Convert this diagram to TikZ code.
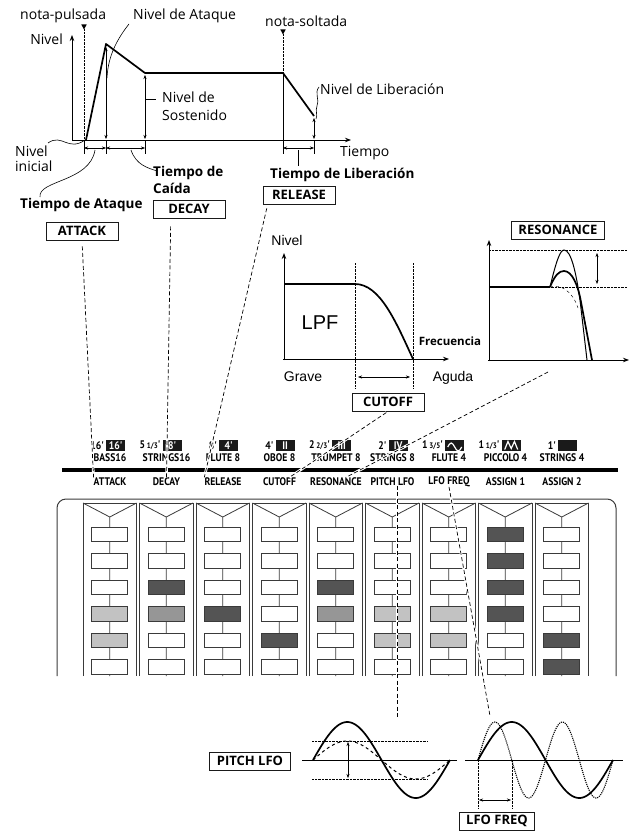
\documentclass[tikz,border=0pt]{standalone}
\usepackage{fontspec}
\setmainfont{Open Sans}
\newfontfamily\arialfont{Liberation Sans}
\newfontfamily\condfont[FakeStretch=0.88]{PT Sans}
\usetikzlibrary{arrows.meta,calc}

\definecolor{ink}{HTML}{1A1A1A}
\definecolor{rim}{HTML}{3A3A3A}

\newcommand\frc[2]{{\fontsize{8}{8}\selectfont#1/#2}}

\tikzset{
  lbl/.style={font=\fontsize{14}{18}\selectfont,inner sep=0pt,align=left},
  tlbl/.style={font=\bfseries\fontsize{13.5}{17.5}\selectfont,inner sep=0pt,align=left},
  ctlbox/.style={draw=ink,line width=0.9pt,font=\bfseries\fontsize{13}{13}\selectfont,
    inner xsep=7pt,inner ysep=0pt,minimum width=72pt,minimum height=18pt},
  helv/.style={inner sep=0pt},
  knob/.style={font=\condfont\bfseries\fontsize{11}{11}\selectfont,inner sep=0pt},
  foot/.style={knob,fill=ink,text=white,minimum width=19pt,minimum height=11pt},
  link/.style={dash pattern=on 4pt off 2.5pt,line width=0.7pt,
    preaction={draw=white,solid,line width=2.6pt}},
  lead/.style={line width=0.6pt},
  env/.style={line width=1.7pt,line join=round},
  axisline/.style={line width=0.9pt,-{Stealth[length=6pt,width=4.5pt]}},
  lamp/.style={draw=rim,line width=0.8pt},
}

\begin{document}
\begin{tikzpicture}[x=1pt,y=-1pt,>={Stealth[length=4pt,width=3pt]}]
  \useasboundingbox (0,0) rectangle (633,832);

  % envelope generator
  \draw[axisline] (72,141) -- (72,35);
  \draw[axisline] (72,140) -- (351,140);
  \node[lbl,anchor=base east] (nivy) at (63,45) {Nivel};
  \node[lbl,anchor=base west] (tiempo) at (340,157) {Tiempo};
  \draw[env] (86,140) -- (106,44) -- (145,73) -- (283,73) -- (314,116);
  \draw[<->,thin] (106,139) -- (106,47);
  \draw[<->,thin] (145,139) -- (145,75);
  \draw[<->,thin] (314,139) -- (314,118);
  \draw[thin] (84,140) -- (84,154) (106,140) -- (106,154) (145,140) -- (145,154)
              (283,73) -- (283,154) (314,140) -- (314,154);
  \draw[<->,thin] (84,148) -- (106,148);
  \draw[<->,thin] (106,148) -- (145,148);
  \draw[<->,thin] (283,148) -- (314,148);
  \draw[densely dotted,thin] (84,29) -- (84,140);
  \draw[densely dotted,thin] (283,34) -- (283,73);
  \fill (81.3,24.5) -- (86.7,24.5) -- (84,29.5) -- cycle;
  \fill (280.3,29.5) -- (285.7,29.5) -- (283,34.5) -- cycle;

  \node[lbl,anchor=base west] (npul) at (20,20) {nota-pulsada};
  \node[lbl,anchor=base west] (natk) at (133,20) {Nivel de Ataque};
  \node[lbl,anchor=base west] (nsol) at (265,27) {nota-soltada};
  \node[lbl,anchor=north west] (nsus) at (162,92) {Nivel de\\Sostenido};
  \node[lbl,anchor=base west] (nrel) at (320,95) {Nivel de Liberación};
  \node[lbl,anchor=north west,font=\fontsize{14}{15}\selectfont] (nini) at (15,146) {Nivel\\inicial};
  \node[tlbl,anchor=base west] (tatk) at (20,208) {Tiempo de Ataque};
  \node[tlbl,anchor=north west] (tdec) at (153,166) {Tiempo de\\Caída};
  \node[tlbl,anchor=base west] (trel) at (270,178) {Tiempo de Liberación};

  \draw[lead] (129,24) .. controls (118,38) and (108,55) .. (107,78);
  \draw[lead] (146,99) -- (156,99);
  \draw[lead] (319,87) .. controls (314,93) and (320,100) .. (317,106)
              .. controls (315,111) and (318,115) .. (316,119);
  \draw[lead] (48,143) .. controls (62,133) and (68,152) .. (85,140);
  \draw[lead] (40,197) .. controls (38,180) and (90,182) .. (95,150);
  \draw[lead] (131,150) .. controls (136,165) and (148,168) .. (157,171);
  \draw[lead] (298,150) -- (298,166);

  \node[ctlbox] (attack) at (82,231) {ATTACK};
  \node[ctlbox] (decay) at (189,209) {DECAY};
  \node[ctlbox] (release) at (299,195) {RELEASE};

  % low pass filter
  \draw[axisline] (284,360) -- (284,253);
  \draw[axisline] (283,359) -- (449,359);
  \draw[env] (284,284) -- (355,284) .. controls (380,284) and (396,322) .. (413,359);
  \draw[densely dotted,thin] (355,263) -- (355,388) (413,263) -- (413,388);
  \draw[<->,thin] (358,377) -- (410,377);
  \node[helv,font=\arialfont\fontsize{14}{14}\selectfont] (fniv) at (287,240) {Nivel};
  \node[helv,font=\arialfont\fontsize{20}{20}\selectfont] (lpf) at (320,323) {LPF};
  \node[helv,font=\bfseries\fontsize{11.5}{11.5}\selectfont] (frec) at (450,341) {Frecuencia};
  \node[helv,font=\arialfont\fontsize{14}{14}\selectfont,anchor=base] (grave) at (303,381) {Grave};
  \node[helv,font=\arialfont\fontsize{14}{14}\selectfont,anchor=base] (aguda) at (453,381) {Aguda};
  \node[ctlbox] (cutoff) at (388,402) {CUTOFF};

  % resonance
  \draw[axisline] (489,361) -- (489,240);
  \draw[axisline] (488,360) -- (629,360);
  \draw[densely dotted,thin] (489,250) -- (627,250) (489,287) -- (627,287);
  \draw[env] (489,287) -- (550,287);
  \draw[line width=1pt] (550,287) .. controls (556,262) and (560,250) .. (564,250)
        .. controls (571,250) and (576,272) .. (580,300) -- (587,360);
  \draw[env] (550,287) .. controls (555,275) and (559,271) .. (564,271)
        .. controls (572,271) and (578,285) .. (581,302) -- (592,360);
  \draw[dashed,thin] (550,287) .. controls (560,284) and (572,290) .. (578,308);
  \draw[<->,thin] (597,253) -- (597,284);
  \node[ctlbox] (resonance) at (558,230) {RESONANCE};
  \coordinate (resfoot) at (548,372);

  % registration row
  \draw[line width=4pt] (62,470) -- (618,470);
  \foreach \i/\fl/\ft in {0/16'/16',1/{5\,\frc13'}/8',2/8'/4',3/4'/II,4/{2\,\frc23'}/III,
                          5/2'/IV,6/{1\,\frc35'}/{},7/{1\,\frc13'}/{},8/1'/{}}{
    \node[foot,anchor=west] (fb\i) at (106+56.5*\i,445.5) {\ft};
    \node[knob,anchor=east] (fs\i) at ($(fb\i.west)+(-2,0)$) {\fl};
  }
  \draw[white,line width=1.2pt] ($(fb6.center)+(-7,1.5)$) sin ++(3.5,-4) cos ++(3.5,4)
        sin ++(3.5,4) cos ++(3.5,-4);
  \draw[white,line width=1.2pt] ($(fb7.center)+(-6.5,4)$) -- ++(3.25,-8) -- ++(3.25,7)
        -- ++(3.25,-7) -- ++(3.25,8);
  \foreach \i/\nm in {0/BASS16,1/STRINGS16,2/FLUTE 8,3/OBOE 8,4/TRUMPET 8,
                      5/STRINGS 8,6/FLUTE 4,7/PICCOLO 4,8/STRINGS 4}
    \node[knob] (pn\i) at (110+56.5*\i,457.5) {\nm};
  \foreach \i/\nm/\lab in {0/fatk/ATTACK,1/fdec/DECAY,2/frel/RELEASE,3/fcut/CUTOFF,
                           4/fres/RESONANCE,5/fpit/PITCH LFO,6/ffrq/LFO FREQ,
                           7/fas1/ASSIGN 1,8/fas2/ASSIGN 2}
    \node[knob] (\nm) at (110+56.5*\i,481.5) {\lab};

  % slider panel
  \draw[rim,line width=1pt,rounded corners=9pt] (57,676) -- (57,499) -- (616,499) -- (616,676);
  \foreach \i/\lamps in {0/{0,0,0,1,1,0},1/{0,0,3,2,0,0},2/{0,0,0,3,0,0},
                         3/{0,0,0,0,3,0},4/{0,0,3,2,0,0},5/{0,0,0,1,1,0},
                         6/{0,0,0,1,1,0},7/{3,3,3,3,0,0},8/{0,0,0,0,3,3}}{
    \pgfmathsetmacro\xl{83+56.5*\i}
    \pgfmathsetmacro\xc{\xl+26.75}
    \pgfmathsetmacro\xr{\xl+53.5}
    \draw[rim,line width=0.9pt] (\xl,676) -- (\xl,503) -- (\xr,503) -- (\xr,676);
    \draw[rim,line width=0.8pt] (\xl,503) -- (\xc,517) -- (\xr,503) (\xc,517) -- (\xc,676);
    \foreach \k [count=\r from 0] in \lamps {
      \pgfmathtruncatemacro\pct{{0,24,41,67}[\k]}
      \filldraw[lamp,fill=black!\pct] (\xc-18,527+26.5*\r) rectangle ++(36,14.5);
    }
  }

  % links from the controls to the sliders
  \draw[link,shorten <=6pt] (attack.south) -- (fatk.north west);
  \draw[link,shorten <=8pt] ($(decay.south west)!0.25!(decay.south east)$) -- (fdec.north);
  \draw[link,shorten <=4pt] ($(release.south west)!0.07!(release.south east)$) -- (frel.north west);
  \draw[link,shorten <=2pt] (cutoff.south) -- ($(fcut.north)!0.6!(fcut.north east)$);
  \draw[link] (resfoot) -- ($(fres.north)+(10,0)$);
  \coordinate (pitchtop) at (397,717);
  \coordinate (freqtop) at (490,716);
  \draw[link] (fpit.south -| pitchtop) -- (pitchtop);
  \draw[link] (ffrq.south) -- (freqtop);

  % pitch lfo
  \draw[thin] (302,760) -- (457,760);
  \draw[densely dotted,thin] (312,741) -- (427,741) (312,779) -- (427,779);
  \draw[line width=1.7pt] plot[domain=313:450,samples=80,smooth] (\x,{760-38*sin((\x-313)/137*360)});
  \draw[dashed,line width=1pt] plot[domain=313:450,samples=80,smooth] (\x,{760-19*sin((\x-313)/137*360)});
  \draw[<->,thin] (348,742) -- (348,778);
  \node[ctlbox] (pitchlfo) at (250,761) {PITCH LFO};

  % lfo frequency
  \draw[thin] (465,760) -- (623,760);
  \draw[densely dotted,thin] (478,760) -- (478,808) (511.75,760) -- (511.75,808);
  \draw[line width=1.7pt] plot[domain=478:613,samples=80,smooth] (\x,{760-38*sin((\x-478)/135*360)});
  \draw[densely dotted,line width=1.1pt] plot[domain=478:613,samples=120,smooth] (\x,{760-38*sin((\x-478)/135*720)});
  \draw[<->,thin] (479,800) -- (511,800);
  \node[ctlbox] (lfofreq) at (497,821) {LFO FREQ};
\end{tikzpicture}
\end{document}
